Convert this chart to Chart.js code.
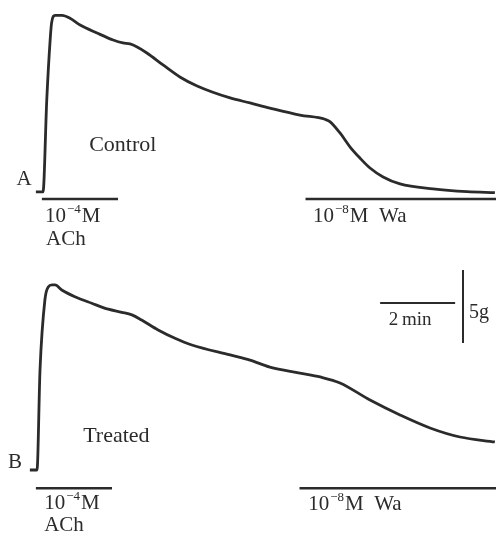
<!DOCTYPE html>
<html>
<head>
<meta charset="utf-8">
<script src="https://cdn.jsdelivr.net/npm/chart.js@4.4.0/dist/chart.umd.min.js"></script>
<style>
    html, body { margin: 0; padding: 0; background: #fff; }
    canvas { display: block; }
</style>
</head>
<body>
<canvas id="chartA" width="496" height="260"></canvas>
<canvas id="chartB" width="496" height="275"></canvas>
<script>
// tension traces, time in min from ACh addition, force in g above baseline
const timeA  = [-0.19, 0, 0.10, 0.19, 0.23, 0.32, 0.51, 0.72, 0.99, 1.44, 1.87, 2.13, 2.32, 2.51, 2.77, 3.20, 3.65, 4.11, 4.99, 5.52, 6.05, 6.85, 7.52, 7.65, 7.92, 8.19, 8.45, 8.72, 9.07, 9.52, 10.4, 11.31, 12.05];
const forceA = [0, 0, 6.3, 10.4, 11.6, 12.1, 12.1, 11.9, 11.44, 10.89, 10.41, 10.21, 10.14, 9.93, 9.52, 8.7, 7.88, 7.26, 6.44, 6.1, 5.75, 5.27, 4.98, 4.82, 4.04, 3.08, 2.33, 1.64, 1.03, 0.55, 0.21, 0.02, -0.05];

const timeB  = [-0.19, 0, 0.08, 0.21, 0.30, 0.40, 0.48, 0.66, 1.01, 1.46, 1.90, 2.26, 2.53, 2.79, 3.23, 3.68, 4.13, 5.15, 5.68, 6.21, 7.01, 7.55, 8.08, 8.88, 9.68, 10.48, 11.28, 12.21];
const forceB = [0, 0, 6.85, 11.64, 12.53, 12.67, 12.67, 12.33, 11.87, 11.42, 11.01, 10.8, 10.62, 10.27, 9.59, 9.02, 8.56, 7.88, 7.53, 7.05, 6.64, 6.37, 5.96, 4.79, 3.77, 2.88, 2.26, 1.92];

// drug application periods (min)
const achPeriod = [0, 2];
const waStart = 7;

// calibration bars
const scaleMin = 2;
const scaleG = 5;

const INK = '#2b2b2b';
const SERIF = '"Liberation Serif", "DejaVu Serif", serif';

function pts(xs, ys) { return xs.map((x, i) => ({ x: x, y: ys[i] })); }

function drawTenPower(ctx, x, y, exp, tail, size) {
    ctx.font = size + 'px ' + SERIF;
    ctx.fillText('10', x, y);
    let w = ctx.measureText('10').width;
    ctx.font = Math.round(size * 0.62) + 'px ' + SERIF;
    ctx.fillText('\u2212' + exp, x + w + 1, y - size * 0.42);
    let w2 = ctx.measureText('\u2212' + exp).width;
    ctx.font = size + 'px ' + SERIF;
    ctx.fillText(tail, x + w + w2 + 2, y);
}

const labelPlugin = {
    id: 'labels',
    afterDraw(chart) {
        const ctx = chart.ctx;
        const xs = chart.scales.x, ys = chart.scales.y;
        const px = v => xs.getPixelForValue(v), py = v => ys.getPixelForValue(v);
        ctx.save();
        ctx.fillStyle = INK;
        ctx.textBaseline = 'alphabetic';
        chart.options.plugins.labels.items.forEach(l => {
            ctx.textAlign = l.align || 'left';
            if (l.exp) {
                drawTenPower(ctx, px(l.t), py(l.g), l.exp, l.tail, l.size);
            } else {
                ctx.font = l.size + 'px ' + SERIF;
                ctx.fillText(l.text, px(l.t), py(l.g));
            }
        });
        ctx.restore();
    }
};

function makeChart(id, xs, ys, xRange, yRange, barLevel, extra, labels) {
    const datasets = [
        { data: pts(xs, ys), borderColor: INK, borderWidth: 2.8, pointRadius: 0, cubicInterpolationMode: 'monotone' },
        { data: [{ x: achPeriod[0] - 0.03, y: barLevel }, { x: achPeriod[1], y: barLevel }], borderColor: INK, borderWidth: 2.6, pointRadius: 0 },
        { data: [{ x: waStart, y: barLevel }, { x: xRange[1], y: barLevel }], borderColor: INK, borderWidth: 2.6, pointRadius: 0 }
    ].concat(extra);
    return new Chart(document.getElementById(id), {
        type: 'line',
        data: { datasets: datasets },
        options: {
            responsive: false,
            animation: false,
            layout: { padding: 0 },
            plugins: { legend: { display: false }, tooltip: { enabled: false }, labels: { items: labels } },
            scales: {
                x: { type: 'linear', display: false, min: xRange[0], max: xRange[1] },
                y: { type: 'linear', display: false, min: yRange[0], max: yRange[1] }
            }
        },
        plugins: [labelPlugin]
    });
}

makeChart('chartA', timeA, forceA, [-1.147, 12.08], [-4.66, 13.15], -0.48, [], [
    { text: 'A', t: -0.3, g: 0.48, size: 21, align: 'right' },
    { text: 'Control', t: 1.23, g: 2.8, size: 22 },
    { exp: '4', tail: 'M', t: 0.05, g: -2.05, size: 21 },
    { text: 'ACh', t: 0.08, g: -3.63, size: 21 },
    { exp: '8', tail: 'M  Wa', t: 7.2, g: -2.05, size: 21 }
]);

const calX = 9.15, calY = 11.44, vX = 11.36, vTop = 13.7;
makeChart('chartB', timeB, forceB, [-0.987, 12.24], [-4.45, 14.38], -1.25, [
    { data: [{ x: calX, y: calY }, { x: calX + scaleMin, y: calY }], borderColor: INK, borderWidth: 2, pointRadius: 0 },
    { data: [{ x: vX, y: vTop }, { x: vX, y: vTop - scaleG }], borderColor: INK, borderWidth: 2, pointRadius: 0 }
], [
    { text: 'B', t: -0.4, g: 0.14, size: 21, align: 'right' },
    { text: 'Treated', t: 1.23, g: 1.92, size: 22 },
    { exp: '4', tail: 'M', t: 0.19, g: -2.67, size: 21 },
    { text: 'ACh', t: 0.19, g: -4.18, size: 21 },
    { exp: '8', tail: 'M  Wa', t: 7.23, g: -2.74, size: 21 },
    { text: '2\u2009min', t: 9.95, g: 9.93, size: 19, align: 'center' },
    { text: '5g', t: 11.52, g: 10.41, size: 20 }
]);
</script>
</body>
</html>
